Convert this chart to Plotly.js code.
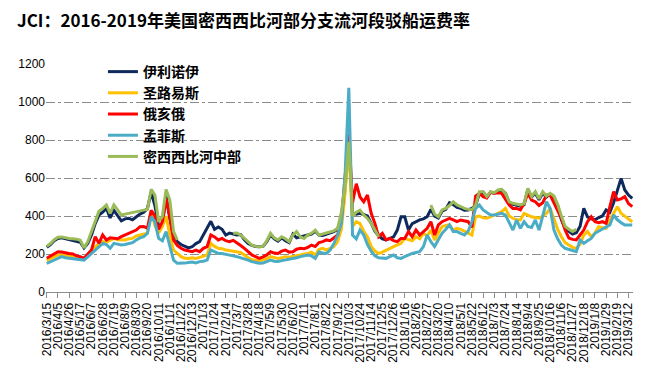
<!DOCTYPE html>
<html>
<head>
<meta charset="utf-8">
<script src="https://cdn.plot.ly/plotly-3.0.1.min.js"></script>
<style>html,body{margin:0;padding:0;background:#fff;}#chart{width:655px;height:380px;}</style>
</head>
<body>
<div id="chart"></div>
<script>
// Weekly categories start 2016/3/15, 158 weeks; labels shown every 3 weeks
var startDate = [2016, 3, 15];
var weekCount = 158;

var tickLabels = ["2016/3/15","2016/4/5","2016/4/26","2016/5/17","2016/6/7","2016/6/28","2016/7/19","2016/8/9","2016/8/30","2016/9/20","2016/10/11","2016/11/1","2016/11/22","2016/12/13","2017/1/3","2017/1/24","2017/2/14","2017/3/7","2017/3/28","2017/4/18","2017/5/9","2017/5/30","2017/6/20","2017/7/11","2017/8/1","2017/8/22","2017/9/12","2017/10/3","2017/10/24","2017/11/14","2017/12/5","2017/12/26","2018/1/16","2018/2/6","2018/2/27","2018/3/20","2018/4/10","2018/5/1","2018/5/22","2018/6/12","2018/7/3","2018/7/24","2018/8/14","2018/9/4","2018/9/25","2018/10/16","2018/11/6","2018/11/27","2018/12/18","2019/1/8","2019/1/29","2019/2/19","2019/3/12"];

var seriesNames = ["伊利诺伊","圣路易斯","俄亥俄","孟菲斯","密西西比河中部"];

var illinois = [235,250,270,282,285,280,275,270,268,262,232,255,300,360,405,420,440,390,430,400,
375,385,388,380,395,410,420,440,525,455,345,360,505,385,290,265,250,240,232,238,
255,265,300,340,372,330,342,330,300,310,305,300,302,275,255,245,240,238,240,265,
300,280,268,285,270,260,305,285,290,295,300,305,320,300,298,305,315,318,330,390,
550,800,415,410,414,408,400,361,320,295,280,274,280,290,326,396,396,326,360,370,
380,385,396,435,400,390,425,435,470,460,445,440,430,432,440,455,520,525,500,525,
520,530,535,520,470,462,455,452,460,540,500,520,485,520,500,515,500,455,380,335,
320,305,312,345,440,395,385,380,392,400,432,420,470,530,598,537,510,493];

var stLouis = [165,175,185,195,195,190,188,186,182,180,177,195,212,239,250,265,262,270,282,275,
274,274,280,282,295,300,305,309,425,350,310,344,400,300,221,203,186,178,177,180,
177,182,190,195,256,240,230,228,221,218,212,212,208,195,180,170,168,165,170,175,
186,180,177,180,186,183,186,190,195,200,203,210,195,225,230,221,228,239,265,330,
520,780,345,370,360,320,290,240,215,203,210,221,230,239,248,256,282,275,270,291,
280,309,295,326,274,310,344,350,353,326,335,330,318,310,300,396,400,390,388,395,
405,414,423,440,400,388,380,379,414,405,396,392,388,400,414,440,379,330,291,260,
247,235,230,250,300,318,291,310,344,340,335,380,414,449,414,400,388,370];

var ohio = [178,190,200,212,210,205,203,200,190,186,177,200,221,291,256,300,274,285,282,280,
291,300,309,318,326,344,345,335,430,400,330,370,490,396,274,245,230,221,215,212,
220,212,230,239,300,290,274,282,270,265,272,256,245,230,212,195,186,177,185,195,
212,205,203,215,221,210,212,225,230,228,235,247,239,260,265,274,270,285,300,380,
620,830,470,570,500,475,510,414,360,291,309,274,282,270,265,282,282,318,291,326,
300,320,335,370,300,353,370,379,388,380,370,379,375,370,340,505,519,502,495,525,
520,522,519,490,458,440,440,432,467,519,484,475,455,470,510,510,467,430,388,326,
284,277,274,300,326,370,396,370,365,370,361,449,528,484,490,502,465,449];

var memphis = [150,160,170,180,186,180,177,175,172,170,168,185,203,225,239,256,250,230,256,250,
247,250,256,260,274,285,291,309,396,370,282,270,318,239,168,151,150,152,155,158,
153,160,162,168,221,210,203,203,200,195,190,186,180,177,168,160,155,151,152,158,
168,162,160,165,168,172,177,180,186,190,195,190,177,212,205,203,221,256,300,361,
620,1075,300,280,326,300,250,215,190,180,178,177,186,195,180,177,186,195,203,208,
212,239,300,265,239,275,309,330,353,318,318,309,300,320,370,440,458,432,420,405,
405,410,414,405,361,326,379,335,370,345,340,379,326,400,475,440,326,280,247,230,
225,221,212,274,256,270,282,309,320,335,345,353,405,380,365,353,353,353];

var midMississippi = [240,255,275,288,290,285,282,280,278,272,232,265,318,380,425,440,458,414,458,432,
405,410,414,420,423,430,432,435,540,510,370,396,540,484,318,274,null,null,null,null,
null,null,null,null,null,null,null,null,null,null,309,310,300,282,262,247,240,238,240,270,
309,285,274,291,280,265,300,318,290,282,300,309,326,300,305,310,318,322,335,420,
560,790,400,420,431,405,387,360,326,290,null,null,null,null,null,null,null,null,null,null,
null,null,null,458,410,396,432,440,455,475,458,450,440,435,432,458,528,528,502,528,
523,537,540,519,475,467,462,458,465,546,502,528,490,528,505,519,505,460,400,345,
330,318,330,null,null,null,null,null,null,null,null,null,null,null,null,null,null,null];

var colors = ["#0E2A5C","#FFC000","#FF0000","#4BACC6","#9BBB59"];

function buildWeeks(start, n) {
  var out = [];
  var t0 = Date.UTC(start[0], start[1] - 1, start[2]);
  for (var k = 0; k < n; k++) {
    var d = new Date(t0 + k * 7 * 86400000);
    out.push(d.getUTCFullYear() + "/" + (d.getUTCMonth() + 1) + "/" + d.getUTCDate());
  }
  return out;
}
var weeks = buildWeeks(startDate, weekCount);

var allSeries = [illinois, stLouis, ohio, memphis, midMississippi];
var traces = allSeries.map(function (vals, k) {
  return {
    x: weeks,
    y: vals,
    name: seriesNames[k],
    type: "scatter",
    mode: "lines",
    connectgaps: false,
    line: {color: colors[k], width: 3}
  };
});

var layout = {
  width: 655,
  height: 380,
  paper_bgcolor: "#ffffff",
  plot_bgcolor: "#ffffff",
  margin: {l: 46, r: 22, t: 64, b: 88},
  showlegend: true,
  title: {
    text: "JCI：2016-2019年美国密西西比河部分支流河段驳船运费率",
    x: 0.026, xanchor: "left", xref: "container",
    y: 0.945, yanchor: "middle", yref: "container",
    font: {family: "Noto Sans CJK SC", size: 17, color: "#000000", weight: "bold"}
  },
  legend: {
    x: 0.097, xanchor: "left", y: 1.035, yanchor: "top",
    bgcolor: "rgba(0,0,0,0)",
    font: {family: "Noto Sans CJK SC", size: 14, color: "#000000", weight: "bold"},
    tracegroupgap: 0
  },
  xaxis: {
    type: "category",
    range: [-0.2, 157.2],
    tickmode: "array",
    tickvals: tickLabels,
    ticktext: tickLabels,
    tickangle: -90,
    ticks: "outside",
    ticklen: 5,
    tickcolor: "#8c8c8c",
    showline: true,
    linecolor: "#8c8c8c",
    linewidth: 1,
    showgrid: false,
    zeroline: false,
    tickfont: {family: "Liberation Sans, Arial, sans-serif", size: 12, color: "#000000"}
  },
  yaxis: {
    range: [0, 1200],
    dtick: 200,
    tick0: 0,
    showgrid: true,
    gridcolor: "#8c8c8c",
    griddash: "dashdot",
    gridwidth: 1,
    zeroline: false,
    showline: false,
    ticks: "",
    tickfont: {family: "Liberation Sans, Arial, sans-serif", size: 12, color: "#000000"}
  }
};

Plotly.newPlot("chart", traces, layout, {displayModeBar: false, staticPlot: true});
</script>
</body>
</html>
